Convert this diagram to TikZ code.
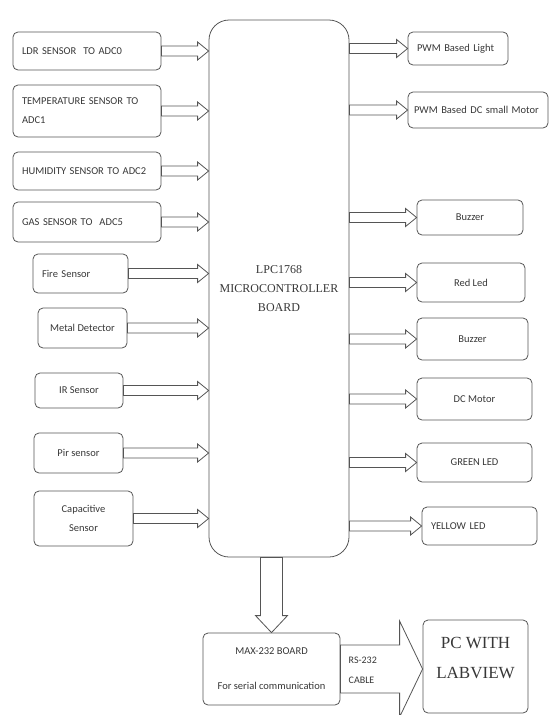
\documentclass[tikz,border=0pt]{standalone}
\usepackage{fontspec}
\setmainfont{Liberation Serif}
\setsansfont{Carlito}
\usetikzlibrary{calc}
\definecolor{linec}{RGB}{85,85,85}
\definecolor{textc}{RGB}{55,55,55}

\begin{document}
\begin{tikzpicture}[x=1pt,y=-1pt,line width=0.8pt,color=linec]
  \tikzstyle{blk}=[draw=linec, rounded corners=5pt, inner xsep=9pt, inner ysep=2pt,
    align=center, text=textc, font=\sffamily\fontsize{10.5}{19}\selectfont]
  \tikzstyle{board}=[blk, rounded corners=20pt, font=\rmfamily\fontsize{12}{19}\selectfont]
  \tikzset{
    fat/.style n args={3}{fill=white, to path={let \p1=(\tikztostart), \p2=(\tikztotarget) in
      (\x1,\y1+#1) -- (\x2-#3,\y1+#1) -- (\x2-#3,\y1+#2) -- (\x2,\y1)
      -- (\x2-#3,\y1-#2) -- (\x2-#3,\y1-#1) -- (\x1,\y1-#1) -- cycle}},
    fatdown/.style n args={3}{fill=white, to path={let \p1=(\tikztostart), \p2=(\tikztotarget) in
      (\x1-#1,\y1) -- (\x1-#1,\y2+#3) -- (\x1-#2,\y2+#3) -- (\x1,\y2)
      -- (\x1+#2,\y2+#3) -- (\x1+#1,\y2+#3) -- (\x1+#1,\y1) -- cycle}}
  }
  \useasboundingbox (0,0) rectangle (555,715);

  % controller
  \node[board] (board) at (279,288.5) [minimum width=140pt, minimum height=537pt]
    {LPC1768\\MICROCONTROLLER\\BOARD};

  % inputs
  \node[blk] (ldr)   at (87,51)      [align=left, text width=130pt, minimum height=38pt] {LDR SENSOR\ \ TO ADC0};
  \node[blk] (temp)  at (87,111)     [align=left, text width=130pt, minimum height=52pt] {TEMPERATURE SENSOR TO\\ADC1};
  \node[blk] (hum)   at (87,171)     [align=left, text width=130pt, minimum height=38pt] {HUMIDITY SENSOR TO ADC2};
  \node[blk] (gas)   at (87,222)     [align=left, text width=130pt, minimum height=40pt] {GAS SENSOR TO\ \ ADC5};
  \node[blk] (fire)  at (80.5,273.5) [align=left, text width=77pt, minimum height=39pt] {Fire Sensor};
  \node[blk] (metal) at (82.5,328)   [minimum width=89pt, minimum height=40pt] {Metal Detector};
  \node[blk] (ir)    at (79,390.5)   [minimum width=88pt, minimum height=35pt] {IR Sensor};
  \node[blk] (pir)   at (78.5,453)   [minimum width=89pt, minimum height=40pt] {Pir sensor};
  \node[blk] (cap)   at (83.5,518.5) [minimum width=99pt, minimum height=55pt] {Capacitive\\Sensor};

  % outputs
  \node[blk] (pwm1)  at (458,48.5)   [align=left, text width=82pt, minimum height=33pt] {PWM Based Light};
  \node[blk] (pwm2)  at (478,110)    [align=left, inner xsep=6pt, text width=128pt, minimum height=36pt] {\mbox{PWM Based DC small Motor}};
  \node[blk] (buz1)  at (470,217.5)  [minimum width=106pt, minimum height=35pt] {Buzzer};
  \node[blk] (red)   at (471,282.5)  [minimum width=108pt, minimum height=39pt] {Red Led};
  \node[blk] (buz2)  at (472.5,339)  [minimum width=111pt, minimum height=42pt] {Buzzer};
  \node[blk] (dcm)   at (474.5,399)  [minimum width=115pt, minimum height=42pt] {DC Motor};
  \node[blk] (grn)   at (474.5,462.5)[minimum width=115pt, minimum height=39pt] {GREEN LED};
  \node[blk] (yel)   at (479.5,526)  [align=left, text width=97pt, minimum height=38pt] {YELLOW LED};

  % serial link
  \node[blk] (max)   at (271.5,669)  [minimum width=137pt, minimum height=72pt] {MAX-232 BOARD\\[16pt]For serial communication};
  \node[blk] (pc)    at (475.5,666.5)[minimum width=105pt, minimum height=93pt,
    label={[yshift=9pt, align=center, text=textc, font=\rmfamily\fontsize{17}{30}\selectfont]center:PC WITH\\LABVIEW}] {};

  \draw[fat={5pt}{9pt}{11pt}]
        (ldr.east)   edge (ldr.east -| board.west)
        (temp.east)  edge (temp.east -| board.west)
        (hum.east)   edge (hum.east -| board.west)
        (gas.east)   edge (gas.east -| board.west)
        (fire.east)  edge (fire.east -| board.west)
        (metal.east) edge (metal.east -| board.west)
        (ir.east)    edge (ir.east -| board.west)
        (pir.east)   edge (pir.east -| board.west)
        (cap.east)   edge (cap.east -| board.west);

  \draw[fat={5pt}{9pt}{11pt}]
        (pwm1.west -| board.east) edge (pwm1.west)
        (pwm2.west -| board.east) edge (pwm2.west)
        (buz1.west -| board.east) edge (buz1.west)
        (red.west -| board.east)  edge (red.west)
        (buz2.west -| board.east) edge (buz2.west)
        (dcm.west -| board.east)  edge (dcm.west)
        (grn.west -| board.east)  edge (grn.west)
        (yel.west -| board.east)  edge (yel.west);

  \draw[fatdown={11pt}{16pt}{17pt}] (max.north |- board.south) to (max.north);
  \draw[fat={24pt}{48pt}{23pt}] (max.east) to (max.east -| pc.west);

  \node[align=left, anchor=west, text=textc, font=\sffamily\fontsize{10}{20}\selectfont]
    (cable) at (345,670) {RS-232\\CABLE};
\end{tikzpicture}
\end{document}
